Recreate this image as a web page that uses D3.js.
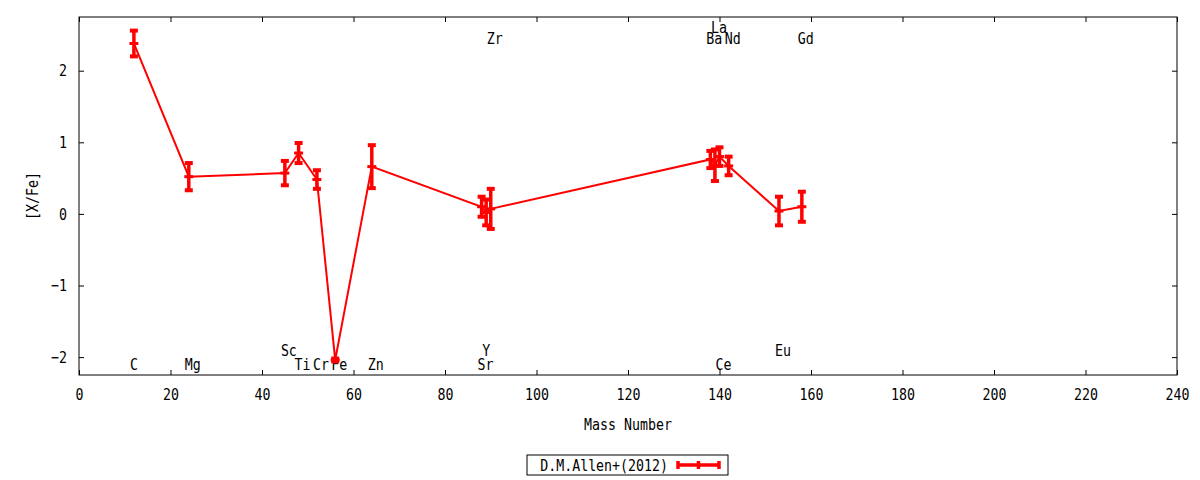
<!DOCTYPE html>
<html>
<head>
<meta charset="utf-8">
<script src="https://cdn.jsdelivr.net/npm/d3@7"></script>
<style>
  body { margin: 0; background: #fff; }
  text { font-family: "DejaVu Sans Mono", monospace; font-size: 16px; fill: #000; }
</style>
</head>
<body>
<div id="chart"></div>
<script>
// Abundances (D.M.Allen+ 2012)
const elements = ['C', 'Mg', 'Sc', 'Ti', 'Cr', 'Fe', 'Zn', 'Sr', 'Y', 'Zr', 'Ba', 'La', 'Ce', 'Nd', 'Eu', 'Gd'];
const masses   = [12, 24, 45, 48, 52, 56, 64, 88, 89, 90, 138, 139, 140, 142, 153, 158];
const values   = [2.38, 0.52, 0.57, 0.85, 0.48, -2.04, 0.66, 0.10, 0.02, 0.07, 0.76, 0.68, 0.80, 0.67, 0.04, 0.10];
const errors   = [0.18, 0.19, 0.17, 0.14, 0.13, 0.02, 0.30, 0.14, 0.18, 0.28, 0.12, 0.22, 0.13, 0.13, 0.20, 0.21];
// height (in [X/Fe]) where each element name is written
const labelY   = [-2.1, -2.1, -1.9, -2.1, -2.1, -2.1, -2.1, -2.1, -1.9, 2.45, 2.45, 2.6, -2.1, 2.45, -1.9, 2.45];

const xTicks = [0, 20, 40, 60, 80, 100, 120, 140, 160, 180, 200, 220, 240];
const yTicks = [-2, -1, 0, 1, 2];
const seriesName = 'D.M.Allen+(2012)';

const W = 1200, H = 480;
const margin = { left: 79, right: 23, top: 17, bottom: 105 };
const SX = 0.83;  // gnuplot font is narrower than DejaVu Mono
const red = '#ff0000';

const svg = d3.select('#chart').append('svg').attr('width', W).attr('height', H);

const x = d3.scaleLinear().domain([0, 240]).range([margin.left, W - margin.right]);
const y = d3.scaleLinear().domain([-2.25, 2.75]).range([H - margin.bottom, margin.top]);

const squeeze = (sel, dx) => sel.attr('transform', `scale(${SX},1)`).attr('x', dx / SX);

// Axes (inward ticks, mirrored on top/right)
const xAxis = svg.append('g').attr('transform', `translate(0,${y.range()[0]})`)
    .call(d3.axisBottom(x).tickValues(xTicks).tickSizeInner(-5).tickSizeOuter(0).tickPadding(14));
const yAxis = svg.append('g').attr('transform', `translate(${x.range()[0]},0)`)
    .call(d3.axisLeft(y).tickValues(yTicks).tickSizeInner(-5).tickSizeOuter(0).tickPadding(12)
        .tickFormat(d3.format('d')));
svg.append('g').attr('transform', `translate(0,${y.range()[1]})`)
    .call(d3.axisTop(x).tickValues(xTicks).tickSizeInner(-5).tickSizeOuter(0).tickFormat(''));
svg.append('g').attr('transform', `translate(${x.range()[1]},0)`)
    .call(d3.axisRight(y).tickValues(yTicks).tickSizeInner(-5).tickSizeOuter(0).tickFormat(''));

svg.selectAll('.domain').remove();
svg.selectAll('.tick line').attr('stroke', '#000');
xAxis.selectAll('text').call(squeeze, 0).style('font-size', '16px').style('font-family', '"DejaVu Sans Mono", monospace');
yAxis.selectAll('text').call(squeeze, -12).style('font-size', '16px').style('font-family', '"DejaVu Sans Mono", monospace');

svg.append('rect')
    .attr('x', x.range()[0]).attr('y', y.range()[1])
    .attr('width', x.range()[1] - x.range()[0]).attr('height', y.range()[0] - y.range()[1])
    .attr('fill', 'none').attr('stroke', '#000').attr('stroke-width', 1);

// Axis titles
svg.append('text')
    .attr('transform', `translate(${(x.range()[0] + x.range()[1]) / 2},${H - 56}) scale(${SX},1)`)
    .attr('text-anchor', 'middle').attr('dy', '0.35em').text('Mass Number');
svg.append('text')
    .attr('transform', `translate(32,${(y.range()[0] + y.range()[1]) / 2}) rotate(-90) scale(${SX},1)`)
    .attr('text-anchor', 'middle').attr('dy', '0.35em').text('[X/Fe]');

// Element names, left aligned at their mass number
svg.append('g').selectAll('text').data(elements).enter().append('text')
    .attr('transform', (d, i) => `translate(${x(masses[i]) - 4},${y(labelY[i])}) scale(${SX},1)`)
    .attr('dy', '0.35em')
    .text(d => d);

// Data: line with error bars
const data = masses.map((m, i) => ({ m: m, v: values[i], e: errors[i] }));

const line = d3.line().x(d => x(d.m)).y(d => y(d.v));
svg.append('path').datum(data)
    .attr('d', line).attr('fill', 'none').attr('stroke', red).attr('stroke-width', 2);

const bars = svg.append('g').selectAll('g').data(data).enter().append('g');
bars.append('line')
    .attr('x1', d => x(d.m)).attr('x2', d => x(d.m))
    .attr('y1', d => y(d.v + d.e)).attr('y2', d => y(d.v - d.e))
    .attr('stroke', red).attr('stroke-width', 3.5);
[1, -1].forEach(s => {
    bars.append('line')
        .attr('x1', d => x(d.m) - 4).attr('x2', d => x(d.m) + 4)
        .attr('y1', d => y(d.v + s * d.e)).attr('y2', d => y(d.v + s * d.e))
        .attr('stroke', red).attr('stroke-width', 4);
});
bars.append('line')
    .attr('x1', d => x(d.m) - 4.5).attr('x2', d => x(d.m) + 4.5)
    .attr('y1', d => y(d.v)).attr('y2', d => y(d.v))
    .attr('stroke', red).attr('stroke-width', 3);

// Legend
const legend = svg.append('g').attr('transform', 'translate(527,455)');
legend.append('rect').attr('width', 201).attr('height', 20)
    .attr('fill', 'none').attr('stroke', '#000').attr('stroke-width', 1);
legend.append('text')
    .attr('transform', `translate(141,10) scale(${SX},1)`)
    .attr('text-anchor', 'end').attr('dy', '0.35em').text(seriesName);
legend.append('line').attr('x1', 151).attr('x2', 192).attr('y1', 10).attr('y2', 10)
    .attr('stroke', red).attr('stroke-width', 3.5);
[151, 171.5, 192].forEach(px => {
    legend.append('line').attr('x1', px).attr('x2', px).attr('y1', 6).attr('y2', 14)
        .attr('stroke', red).attr('stroke-width', 3.5);
});
</script>
</body>
</html>
